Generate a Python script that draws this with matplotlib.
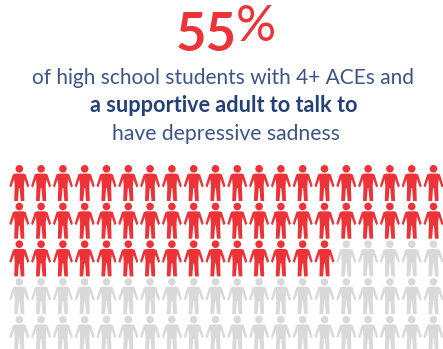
import numpy as np
import matplotlib.pyplot as plt
from matplotlib.path import Path

# Figures shown in the graphic
percent = 55
headline_number = "55"
headline_sign = "%"
line_one = "of high school students with 4+ ACEs and"
line_two = "a supportive adult to talk to"
line_three = "have depressive sadness"
n_rows = 5
n_cols = 20

RED = "#ee3338"
GREY = "#d9d9d9"
NAVY = "#24407a"
NAVY_LIGHT = "#3a5588"

plt.rcParams['font.family'] = ['Lato', 'DejaVu Sans']

# One person: body outline plus a round head, y runs upward
body = [(-4.0, 9.4), (4.0, 9.4), (6.4, 8.6), (10.0, -3.0), (8.1, -4.5), (5.2, 3.8),
        (4.6, -3.0), (5.1, -18.0), (1.4, -18.0), (0.4, -5.0), (-0.4, -5.0), (-1.4, -18.0),
        (-5.1, -18.0), (-4.6, -3.0), (-5.2, 3.8), (-8.1, -4.5), (-10.0, -3.0), (-6.4, 8.6),
        (-4.0, 9.4)]
head = Path.circle((0, 14.2), 3.8)
person = Path.make_compound_path(Path(body, closed=True), head)


def main():
    fig = plt.figure(figsize=(4.43, 3.49), dpi=100)
    ax = fig.add_axes([0, 0, 1, 1])
    ax.set_xlim(0, 443)
    ax.set_ylim(349, 0)
    ax.axis('off')

    # Text block: bold number with a lighter, taller percent sign
    ax.text(206, 35.5, headline_number, color=RED, fontsize=38, fontweight='bold', ha='center', va='center')
    ax.text(256, 27, headline_sign, color=RED, fontsize=36, fontweight='normal', ha='center', va='center')
    ax.text(223.5, 78, line_one, color=NAVY_LIGHT, fontsize=15, ha='center', va='center')
    ax.text(223.5, 106, line_two, color=NAVY, fontsize=15.6, fontweight='bold', ha='center', va='center')
    ax.text(226.5, 134, line_three, color=NAVY_LIGHT, fontsize=15.2, ha='center', va='center')

    # Grid of people, filled row by row
    col_idx, row_idx = np.meshgrid(np.arange(n_cols), np.arange(n_rows))
    order = np.arange(n_rows * n_cols)
    xs = 19.3 + 21.8 * col_idx.ravel()
    ys = 183 + 37.7 * row_idx.ravel()
    colors = np.where(order < percent, RED, GREY)
    ax.scatter(xs, ys, marker=person, s=(36 * 0.72) ** 2, c=colors, linewidths=0, clip_on=False)

    fig.savefig("out.png", dpi=100)


if __name__ == "__main__":
    main()
